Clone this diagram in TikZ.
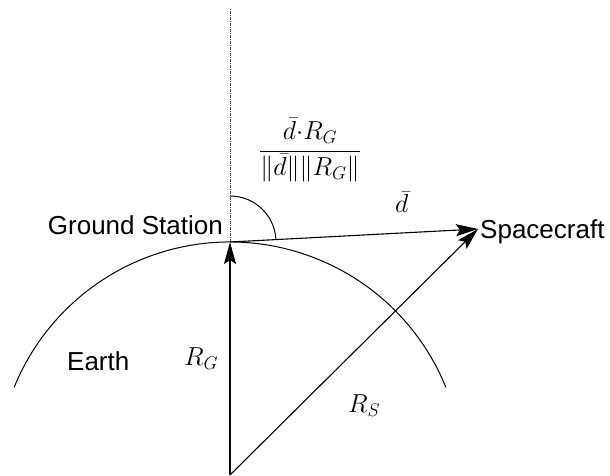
\documentclass[tikz,border=0pt]{standalone}
\usepackage{fix-cm}
\usepackage{fontspec}
\setmainfont{Liberation Sans}
\usetikzlibrary{arrows.meta}
\begin{document}
\begin{tikzpicture}[x=1pt,y=1pt,
  lbl/.style={inner sep=0pt,anchor=base west,font=\fontsize{26}{31}\selectfont},
  mlbl/.style={inner sep=0pt,anchor=base west,font=\fontsize{26}{31}\selectfont},
  vec/.style={line width=1.1pt,-{Stealth[length=22pt,width=12pt,inset=4pt]}},
  thin line/.style={line width=1pt}]
\useasboundingbox (0,0) rectangle (610,476);
\coordinate (O) at (230,1);
\coordinate (G) at (230,234);
\coordinate (S) at (478,247);
\coordinate (T) at (230,468);
% Earth surface
\draw[thin line] (O) ++(22.1:233) arc[start angle=22.1,end angle=157.9,radius=233];
% vertical reference
\draw[line width=0.8pt,gray!60!black,dash pattern=on 3pt off 1pt on 1pt off 1pt] (G) -- (T);
% angle
\draw[thin line] (G) ++(3:46) arc[start angle=3,end angle=90,radius=46];
% vectors
\draw[vec] (O) -- (G);
\draw[vec] (O) -- (S);
\draw[vec] (G) -- (S);
% labels
\node[lbl,anchor=base east] (gs) at (223,241) {Ground Station};
\node[lbl] (sc) at (480,237) {Spacecraft};
\node[lbl] (earth) at (67,105) {Earth};
\node[mlbl] (rg) at (184,110) {$R_G$};
\node[mlbl] (rs) at (348,63) {$R_S$};
\node[mlbl] (dl) at (395,263) {$\bar d$};
\node[inner sep=0pt,font=\fontsize{26}{31}\selectfont] (frac) at (310,326)
  {$\displaystyle\frac{\bar d{\cdot}R_G}{\|\bar d\|\|R_G\|}$};
\end{tikzpicture}
\end{document}
